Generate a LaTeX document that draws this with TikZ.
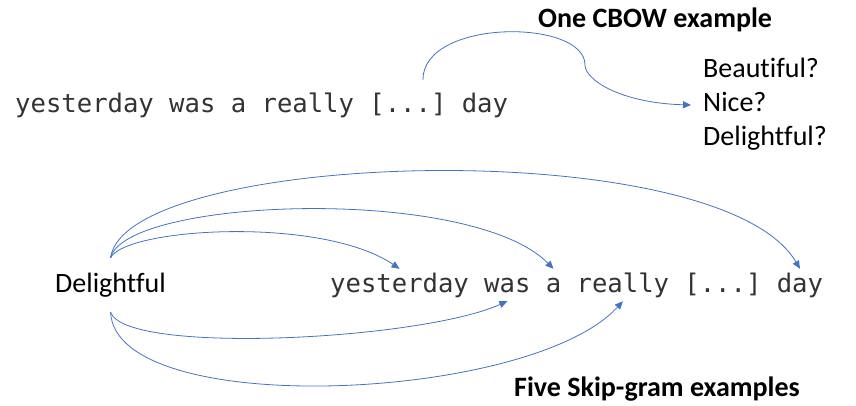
\documentclass[tikz,border=0pt]{standalone}
\usepackage{fontspec}
\setmainfont{Carlito}[Ligatures=NoCommon]
\newfontfamily\codefont{DejaVu Sans Mono}
\usepackage{tikz}
\usetikzlibrary{arrows.meta,calc}
\definecolor{arrowblue}{HTML}{4472C4}
\def\charw{15.4}
\def\codesize{\fontsize{25.6pt}{30pt}\selectfont}
\def\textsize{\fontsize{28pt}{34pt}\selectfont}
\tikzstyle{arrow} = [draw=arrowblue, line width=0.8pt, -{Triangle[length=8pt,width=7pt]}]

\begin{document}
\begin{tikzpicture}[x=1pt, y=-1pt]
    \tikzstyle{word}=[inner xsep=0pt, inner ysep=3pt, text height=20pt, text depth=6pt, anchor=base west, font=\codefont\codesize, text=black!80]
    \tikzstyle{plain}=[inner sep=0pt, text height=20pt, text depth=6pt, anchor=base west, font=\textsize]
    \tikzstyle{guess}=[plain, inner xsep=12pt]
    \tikzstyle{title}=[plain, font=\textsize\bfseries]

    \useasboundingbox (0,0) rectangle (856,406);

    % Draw the CBOW sentence
    \foreach \name / \i / \w in {yest/0/yesterday, was/10/was, a/14/a, really/16/really, blank/23/{[...]}, day/29/day}
        \node[word] (T-\name) at (15+\i*\charw, 113) {\w};

    % Draw the guesses
    \node[title] (cbow) at (538, 28) {One CBOW example};
    \foreach \name / \y / \w in {beau/78/Beautiful?, nice/112/Nice?, deli/146/Delightful?}
        \node[guess] (G-\name) at (691, \y) {\w};

    % CBOW arrow
    \coordinate (bend) at (585, 65);
    \draw[arrow] ([xshift=15pt, yshift=10pt]T-blank.north) .. controls +(0,-61.5) and +(0,-46.5) .. (bend)
        .. controls +(0,15) and +(-70,-2) .. (G-nice.west);

    % Draw the skip-gram sentence
    \node[plain, inner ysep=14pt] (delight) at (55, 292) {Delightful};
    \foreach \name / \i / \w in {yest/0/yesterday, was/10/was, a/14/a, really/16/really, blank/23/{[...]}, day/29/day}
        \node[word] (B-\name) at (330+\i*\charw, 292) {\w};
    \node[title] (skip) at (514, 396) {Five Skip-gram examples};

    % Skip-gram arrows, above
    \draw[arrow] (delight.north) .. controls +(15,-30) and +(-78,-53) .. (B-yest.north);
    \draw[arrow] (delight.north) .. controls +(15,-60) and +(-83,-84) .. (B-a.north);
    \draw[arrow] (delight.north) .. controls +(15,-108) and +(-80,-137) .. (B-day.north);

    % Skip-gram arrows, below
    \draw[arrow] (delight.south) .. controls +(15,43) and +(-87,39) .. (B-was.south);
    \draw[arrow] (delight.south) .. controls +(5,108) and +(-92,101) .. (B-really.south);
\end{tikzpicture}
\end{document}
